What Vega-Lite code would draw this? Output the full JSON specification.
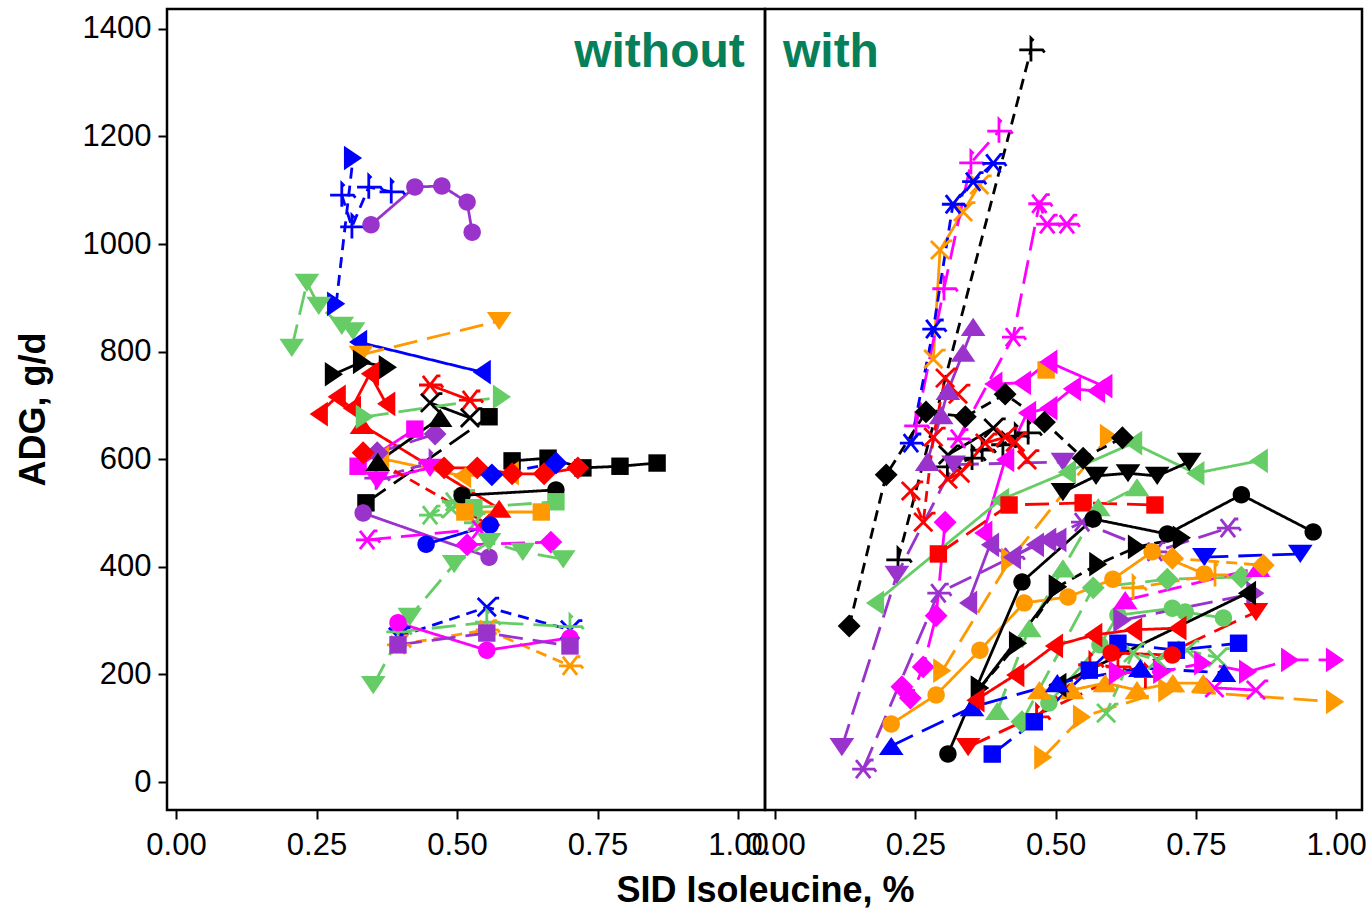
{"$schema":"https://vega.github.io/schema/vega-lite/v6.json","background":"white","padding":{"left":13,"top":7,"right":0,"bottom":0},"spacing":0,"bounds":"flush",
"config":{"view":{"stroke":"#000000","strokeWidth":2.5,"fill":null},"font":"Liberation Sans","axis":{"domain":false,"grid":false,"tickColor":"#000000","tickWidth":2,"tickSize":9,"labelColor":"#000000","labelFontSize":31,"labelFont":"Liberation Sans","labelPadding":7,"titleFont":"Liberation Sans","titleFontSize":36,"titleFontWeight":"bold","titleColor":"#000000"}},
"datasets":{
"without":[
{"series":"a1","colour":"b","symbol":"tr","line":"dash","ile":0.285,"adg":889},{"series":"a1","colour":"b","symbol":"tr","line":"dash","ile":0.315,"adg":1160},
{"series":"a2","colour":"b","symbol":"pl","line":"dash","ile":0.295,"adg":1091},{"series":"a2","colour":"b","symbol":"pl","line":"dash","ile":0.313,"adg":1032},{"series":"a2","colour":"b","symbol":"pl","line":"dash","ile":0.343,"adg":1106},{"series":"a2","colour":"b","symbol":"pl","line":"dash","ile":0.383,"adg":1097},
{"series":"a3","colour":"p","symbol":"ci","line":"solid","ile":0.347,"adg":1036},{"series":"a3","colour":"p","symbol":"ci","line":"solid","ile":0.425,"adg":1106},{"series":"a3","colour":"p","symbol":"ci","line":"solid","ile":0.473,"adg":1108},{"series":"a3","colour":"p","symbol":"ci","line":"solid","ile":0.518,"adg":1078},{"series":"a3","colour":"p","symbol":"ci","line":"solid","ile":0.527,"adg":1022},
{"series":"a4","colour":"g","symbol":"td","line":"long","ile":0.206,"adg":807},{"series":"a4","colour":"g","symbol":"td","line":"long","ile":0.233,"adg":928},{"series":"a4","colour":"g","symbol":"td","line":"long","ile":0.254,"adg":885},{"series":"a4","colour":"g","symbol":"td","line":"long","ile":0.295,"adg":848},{"series":"a4","colour":"g","symbol":"td","line":"long","ile":0.315,"adg":838},
{"series":"a6","colour":"b","symbol":"tl","line":"solid","ile":0.324,"adg":818},{"series":"a6","colour":"b","symbol":"tl","line":"solid","ile":0.544,"adg":762},
{"series":"a5","colour":"o","symbol":"td","line":"long","ile":0.329,"adg":794},{"series":"a5","colour":"o","symbol":"td","line":"long","ile":0.575,"adg":857},
{"series":"a7","colour":"k","symbol":"tr","line":"long","ile":0.281,"adg":758},{"series":"a7","colour":"k","symbol":"tr","line":"long","ile":0.331,"adg":781},{"series":"a7","colour":"k","symbol":"tr","line":"long","ile":0.377,"adg":771},
{"series":"a8","colour":"r","symbol":"tl","line":"solid","ile":0.254,"adg":684},{"series":"a8","colour":"r","symbol":"tl","line":"solid","ile":0.286,"adg":716},{"series":"a8","colour":"r","symbol":"tl","line":"solid","ile":0.313,"adg":695},{"series":"a8","colour":"r","symbol":"tl","line":"solid","ile":0.345,"adg":759},{"series":"a8","colour":"r","symbol":"tl","line":"solid","ile":0.374,"adg":703},
{"series":"a9","colour":"r","symbol":"tu","line":"solid","ile":0.331,"adg":664},{"series":"a9","colour":"r","symbol":"tu","line":"solid","ile":0.575,"adg":508},
{"series":"a32","colour":"r","symbol":"st","line":"solid","ile":0.452,"adg":738},{"series":"a32","colour":"r","symbol":"st","line":"solid","ile":0.523,"adg":710},
{"series":"a33","colour":"k","symbol":"xx","line":"solid","ile":0.452,"adg":705},{"series":"a33","colour":"k","symbol":"xx","line":"solid","ile":0.523,"adg":677},
{"series":"a34","colour":"g","symbol":"tr","line":"long","ile":0.336,"adg":679},{"series":"a34","colour":"g","symbol":"tr","line":"long","ile":0.58,"adg":716},
{"series":"a10","colour":"k","symbol":"sq","line":"long","ile":0.338,"adg":519},{"series":"a10","colour":"k","symbol":"sq","line":"long","ile":0.557,"adg":679},
{"series":"a22","colour":"p","symbol":"ci","line":"solid","ile":0.333,"adg":500},{"series":"a22","colour":"p","symbol":"ci","line":"solid","ile":0.557,"adg":418},
{"series":"a11","colour":"k","symbol":"sq","line":"solid","ile":0.598,"adg":597},{"series":"a11","colour":"k","symbol":"sq","line":"solid","ile":0.662,"adg":602},{"series":"a11","colour":"k","symbol":"sq","line":"solid","ile":0.724,"adg":584},{"series":"a11","colour":"k","symbol":"sq","line":"solid","ile":0.79,"adg":587},{"series":"a11","colour":"k","symbol":"sq","line":"solid","ile":0.856,"adg":593},
{"series":"a17","colour":"o","symbol":"tl","line":"solid","ile":0.363,"adg":602},{"series":"a17","colour":"o","symbol":"tl","line":"solid","ile":0.509,"adg":569},{"series":"a17","colour":"o","symbol":"tl","line":"solid","ile":0.594,"adg":574},
{"series":"a14","colour":"m","symbol":"sq","line":"solid","ile":0.324,"adg":587},{"series":"a14","colour":"m","symbol":"sq","line":"solid","ile":0.425,"adg":656},
{"series":"a15","colour":"p","symbol":"di","line":"long","ile":0.358,"adg":612},{"series":"a15","colour":"p","symbol":"di","line":"long","ile":0.461,"adg":647},
{"series":"a16","colour":"p","symbol":"pl","line":"dash","ile":0.356,"adg":565},{"series":"a16","colour":"p","symbol":"pl","line":"dash","ile":0.452,"adg":593},
{"series":"a18","colour":"m","symbol":"td","line":"solid","ile":0.358,"adg":561},{"series":"a18","colour":"m","symbol":"td","line":"solid","ile":0.452,"adg":584},
{"series":"a12","colour":"r","symbol":"di","line":"dash","ile":0.333,"adg":612},{"series":"a12","colour":"r","symbol":"di","line":"dash","ile":0.557,"adg":478},
{"series":"a13","colour":"k","symbol":"tu","line":"solid","ile":0.359,"adg":595},{"series":"a13","colour":"k","symbol":"tu","line":"solid","ile":0.47,"adg":677},
{"series":"a19","colour":"k","symbol":"ci","line":"solid","ile":0.509,"adg":533},{"series":"a19","colour":"k","symbol":"ci","line":"solid","ile":0.676,"adg":543},
{"series":"a20","colour":"g","symbol":"sq","line":"long","ile":0.53,"adg":510},{"series":"a20","colour":"g","symbol":"sq","line":"long","ile":0.676,"adg":521},
{"series":"a21","colour":"g","symbol":"st","line":"dash","ile":0.452,"adg":496},{"series":"a21","colour":"g","symbol":"st","line":"dash","ile":0.493,"adg":521},{"series":"a21","colour":"g","symbol":"st","line":"dash","ile":0.532,"adg":482},
{"series":"a35","colour":"g","symbol":"xx","line":"dash","ile":0.49,"adg":508},{"series":"a35","colour":"g","symbol":"xx","line":"dash","ile":0.51,"adg":525},
{"series":"a23","colour":"o","symbol":"sq","line":"solid","ile":0.514,"adg":502},{"series":"a23","colour":"o","symbol":"sq","line":"solid","ile":0.65,"adg":502},
{"series":"a24","colour":"m","symbol":"st","line":"long","ile":0.34,"adg":450},{"series":"a24","colour":"m","symbol":"st","line":"long","ile":0.54,"adg":470},
{"series":"a25","colour":"b","symbol":"ci","line":"solid","ile":0.445,"adg":442},{"series":"a25","colour":"b","symbol":"ci","line":"solid","ile":0.559,"adg":478},
{"series":"a26","colour":"m","symbol":"di","line":"long","ile":0.518,"adg":441},{"series":"a26","colour":"m","symbol":"di","line":"long","ile":0.667,"adg":446},
{"series":"a27","colour":"g","symbol":"td","line":"long","ile":0.351,"adg":180},{"series":"a27","colour":"g","symbol":"td","line":"long","ile":0.416,"adg":307},{"series":"a27","colour":"g","symbol":"td","line":"long","ile":0.495,"adg":405},{"series":"a27","colour":"g","symbol":"td","line":"long","ile":0.557,"adg":446},{"series":"a27","colour":"g","symbol":"td","line":"long","ile":0.617,"adg":428},{"series":"a27","colour":"g","symbol":"td","line":"long","ile":0.689,"adg":414},
{"series":"a28","colour":"r","symbol":"di","line":"solid","ile":0.477,"adg":584},{"series":"a28","colour":"r","symbol":"di","line":"solid","ile":0.536,"adg":584},{"series":"a28","colour":"r","symbol":"di","line":"solid","ile":0.598,"adg":573},{"series":"a28","colour":"r","symbol":"di","line":"solid","ile":0.655,"adg":573},{"series":"a28","colour":"r","symbol":"di","line":"solid","ile":0.715,"adg":584},
{"series":"a29","colour":"b","symbol":"di","line":"dash","ile":0.562,"adg":571},{"series":"a29","colour":"b","symbol":"di","line":"dash","ile":0.676,"adg":593},
{"series":"a30","colour":"b","symbol":"xx","line":"dash","ile":0.395,"adg":270},{"series":"a30","colour":"b","symbol":"xx","line":"dash","ile":0.553,"adg":325},{"series":"a30","colour":"b","symbol":"xx","line":"dash","ile":0.701,"adg":283},
{"series":"a31","colour":"g","symbol":"pl","line":"long","ile":0.395,"adg":279},{"series":"a31","colour":"g","symbol":"pl","line":"long","ile":0.553,"adg":297},{"series":"a31","colour":"g","symbol":"pl","line":"long","ile":0.701,"adg":289},
{"series":"a36","colour":"o","symbol":"st","line":"dash","ile":0.395,"adg":255},{"series":"a36","colour":"o","symbol":"st","line":"dash","ile":0.553,"adg":283},{"series":"a36","colour":"o","symbol":"st","line":"dash","ile":0.701,"adg":216},
{"series":"a37","colour":"m","symbol":"ci","line":"solid","ile":0.395,"adg":296},{"series":"a37","colour":"m","symbol":"ci","line":"solid","ile":0.553,"adg":245},{"series":"a37","colour":"m","symbol":"ci","line":"solid","ile":0.701,"adg":268},
{"series":"a38","colour":"p","symbol":"sq","line":"long","ile":0.395,"adg":255},{"series":"a38","colour":"p","symbol":"sq","line":"long","ile":0.553,"adg":277},{"series":"a38","colour":"p","symbol":"sq","line":"long","ile":0.701,"adg":253}
],
"with":[
{"series":"b1","colour":"k","symbol":"pl","line":"dash","ile":0.219,"adg":413},{"series":"b1","colour":"k","symbol":"pl","line":"dash","ile":0.456,"adg":1361},
{"series":"b3","colour":"o","symbol":"xx","line":"solid","ile":0.282,"adg":786},{"series":"b3","colour":"o","symbol":"xx","line":"solid","ile":0.294,"adg":989},{"series":"b3","colour":"o","symbol":"xx","line":"solid","ile":0.335,"adg":1060},{"series":"b3","colour":"o","symbol":"xx","line":"solid","ile":0.364,"adg":1110},
{"series":"b4","colour":"m","symbol":"pl","line":"long","ile":0.251,"adg":662},{"series":"b4","colour":"m","symbol":"pl","line":"long","ile":0.301,"adg":917},{"series":"b4","colour":"m","symbol":"pl","line":"long","ile":0.349,"adg":1151},{"series":"b4","colour":"m","symbol":"pl","line":"long","ile":0.399,"adg":1210},
{"series":"b2","colour":"b","symbol":"st","line":"dash","ile":0.242,"adg":630},{"series":"b2","colour":"b","symbol":"st","line":"dash","ile":0.282,"adg":842},{"series":"b2","colour":"b","symbol":"st","line":"dash","ile":0.317,"adg":1074},{"series":"b2","colour":"b","symbol":"st","line":"dash","ile":0.353,"adg":1116},{"series":"b2","colour":"b","symbol":"st","line":"dash","ile":0.389,"adg":1150},
{"series":"b5","colour":"m","symbol":"st","line":"long","ile":0.326,"adg":638},{"series":"b5","colour":"m","symbol":"st","line":"long","ile":0.424,"adg":827},{"series":"b5","colour":"m","symbol":"st","line":"long","ile":0.471,"adg":1075},{"series":"b5","colour":"m","symbol":"st","line":"long","ile":0.485,"adg":1037},{"series":"b5","colour":"m","symbol":"st","line":"long","ile":0.52,"adg":1037},
{"series":"b6","colour":"p","symbol":"tu","line":"solid","ile":0.271,"adg":595},{"series":"b6","colour":"p","symbol":"tu","line":"solid","ile":0.296,"adg":682},{"series":"b6","colour":"p","symbol":"tu","line":"solid","ile":0.308,"adg":727},{"series":"b6","colour":"p","symbol":"tu","line":"solid","ile":0.335,"adg":798},{"series":"b6","colour":"p","symbol":"tu","line":"solid","ile":0.353,"adg":846},
{"series":"b11","colour":"p","symbol":"td","line":"long","ile":0.119,"adg":65},{"series":"b11","colour":"p","symbol":"td","line":"long","ile":0.217,"adg":385},{"series":"b11","colour":"p","symbol":"td","line":"long","ile":0.318,"adg":590},{"series":"b11","colour":"p","symbol":"td","line":"long","ile":0.513,"adg":595},
{"series":"b40","colour":"o","symbol":"sq","line":"solid","ile":0.483,"adg":766},
{"series":"b12","colour":"m","symbol":"tl","line":"solid","ile":0.389,"adg":740},{"series":"b12","colour":"m","symbol":"tl","line":"solid","ile":0.44,"adg":742},{"series":"b12","colour":"m","symbol":"tl","line":"solid","ile":0.487,"adg":781},{"series":"b12","colour":"m","symbol":"tl","line":"solid","ile":0.585,"adg":736},
{"series":"b13","colour":"m","symbol":"tl","line":"solid","ile":0.371,"adg":463},{"series":"b13","colour":"m","symbol":"tl","line":"solid","ile":0.41,"adg":599},{"series":"b13","colour":"m","symbol":"tl","line":"solid","ile":0.449,"adg":686},{"series":"b13","colour":"m","symbol":"tl","line":"solid","ile":0.487,"adg":695},{"series":"b13","colour":"m","symbol":"tl","line":"solid","ile":0.529,"adg":731},{"series":"b13","colour":"m","symbol":"tl","line":"solid","ile":0.572,"adg":727},
{"series":"b14","colour":"m","symbol":"di","line":"long","ile":0.226,"adg":177},{"series":"b14","colour":"m","symbol":"di","line":"long","ile":0.241,"adg":156},{"series":"b14","colour":"m","symbol":"di","line":"long","ile":0.264,"adg":214},{"series":"b14","colour":"m","symbol":"di","line":"long","ile":0.287,"adg":309},{"series":"b14","colour":"m","symbol":"di","line":"long","ile":0.303,"adg":483},
{"series":"b15","colour":"p","symbol":"st","line":"long","ile":0.157,"adg":24},{"series":"b15","colour":"p","symbol":"st","line":"long","ile":0.291,"adg":351},{"series":"b15","colour":"p","symbol":"st","line":"long","ile":0.422,"adg":418},{"series":"b15","colour":"p","symbol":"st","line":"long","ile":0.547,"adg":483},{"series":"b15","colour":"p","symbol":"st","line":"long","ile":0.677,"adg":428},{"series":"b15","colour":"p","symbol":"st","line":"long","ile":0.807,"adg":472},
{"series":"b22","colour":"o","symbol":"tr","line":"long","ile":0.298,"adg":207},{"series":"b22","colour":"o","symbol":"tr","line":"long","ile":0.419,"adg":413},{"series":"b22","colour":"o","symbol":"tr","line":"long","ile":0.595,"adg":643},
{"series":"b16","colour":"g","symbol":"tl","line":"solid","ile":0.178,"adg":333},{"series":"b16","colour":"g","symbol":"tl","line":"solid","ile":0.401,"adg":524},{"series":"b16","colour":"g","symbol":"tl","line":"solid","ile":0.52,"adg":576},{"series":"b16","colour":"g","symbol":"tl","line":"solid","ile":0.638,"adg":630},{"series":"b16","colour":"g","symbol":"tl","line":"solid","ile":0.749,"adg":574},{"series":"b16","colour":"g","symbol":"tl","line":"solid","ile":0.862,"adg":597},
{"series":"b7","colour":"k","symbol":"di","line":"dash","ile":0.132,"adg":290},{"series":"b7","colour":"k","symbol":"di","line":"dash","ile":0.198,"adg":571},{"series":"b7","colour":"k","symbol":"di","line":"dash","ile":0.269,"adg":688},{"series":"b7","colour":"k","symbol":"di","line":"dash","ile":0.339,"adg":679},{"series":"b7","colour":"k","symbol":"di","line":"dash","ile":0.41,"adg":721},{"series":"b7","colour":"k","symbol":"di","line":"dash","ile":0.48,"adg":669},{"series":"b7","colour":"k","symbol":"di","line":"dash","ile":0.549,"adg":602},{"series":"b7","colour":"k","symbol":"di","line":"dash","ile":0.619,"adg":640},
{"series":"b9","colour":"k","symbol":"xx","line":"solid","ile":0.308,"adg":608},{"series":"b9","colour":"k","symbol":"xx","line":"solid","ile":0.389,"adg":658},
{"series":"b10","colour":"k","symbol":"pl","line":"dash","ile":0.307,"adg":586},{"series":"b10","colour":"k","symbol":"pl","line":"dash","ile":0.351,"adg":602},{"series":"b10","colour":"k","symbol":"pl","line":"dash","ile":0.369,"adg":617},{"series":"b10","colour":"k","symbol":"pl","line":"dash","ile":0.406,"adg":627},{"series":"b10","colour":"k","symbol":"pl","line":"dash","ile":0.428,"adg":643},{"series":"b10","colour":"k","symbol":"pl","line":"dash","ile":0.451,"adg":649},
{"series":"b8","colour":"r","symbol":"xx","line":"dash","ile":0.242,"adg":541},{"series":"b8","colour":"r","symbol":"xx","line":"dash","ile":0.264,"adg":483},{"series":"b8","colour":"r","symbol":"xx","line":"dash","ile":0.282,"adg":641},{"series":"b8","colour":"r","symbol":"xx","line":"dash","ile":0.303,"adg":751},{"series":"b8","colour":"r","symbol":"xx","line":"dash","ile":0.326,"adg":721},
{"series":"b41","colour":"r","symbol":"xx","line":"solid","ile":0.308,"adg":563},{"series":"b41","colour":"r","symbol":"xx","line":"solid","ile":0.33,"adg":574},{"series":"b41","colour":"r","symbol":"xx","line":"solid","ile":0.374,"adg":630},{"series":"b41","colour":"r","symbol":"xx","line":"solid","ile":0.41,"adg":641},{"series":"b41","colour":"r","symbol":"xx","line":"solid","ile":0.428,"adg":632},{"series":"b41","colour":"r","symbol":"xx","line":"solid","ile":0.449,"adg":599},
{"series":"b17","colour":"p","symbol":"tl","line":"solid","ile":0.344,"adg":333},{"series":"b17","colour":"p","symbol":"tl","line":"solid","ile":0.383,"adg":441},{"series":"b17","colour":"p","symbol":"tl","line":"solid","ile":0.422,"adg":418},{"series":"b17","colour":"p","symbol":"tl","line":"solid","ile":0.463,"adg":441},{"series":"b17","colour":"p","symbol":"tl","line":"solid","ile":0.485,"adg":450},{"series":"b17","colour":"p","symbol":"tl","line":"solid","ile":0.503,"adg":450},
{"series":"b18","colour":"r","symbol":"sq","line":"long","ile":0.291,"adg":424},{"series":"b18","colour":"r","symbol":"sq","line":"long","ile":0.417,"adg":515},{"series":"b18","colour":"r","symbol":"sq","line":"long","ile":0.549,"adg":519},{"series":"b18","colour":"r","symbol":"sq","line":"long","ile":0.677,"adg":515},
{"series":"b19","colour":"g","symbol":"tu","line":"long","ile":0.396,"adg":132},{"series":"b19","colour":"g","symbol":"tu","line":"long","ile":0.453,"adg":286},{"series":"b19","colour":"g","symbol":"tu","line":"long","ile":0.513,"adg":397},{"series":"b19","colour":"g","symbol":"tu","line":"long","ile":0.576,"adg":511},{"series":"b19","colour":"g","symbol":"tu","line":"long","ile":0.645,"adg":548},
{"series":"b20","colour":"k","symbol":"td","line":"solid","ile":0.513,"adg":539},{"series":"b20","colour":"k","symbol":"td","line":"solid","ile":0.572,"adg":569},{"series":"b20","colour":"k","symbol":"td","line":"solid","ile":0.629,"adg":574},{"series":"b20","colour":"k","symbol":"td","line":"solid","ile":0.681,"adg":569},{"series":"b20","colour":"k","symbol":"td","line":"solid","ile":0.738,"adg":595},
{"series":"b21","colour":"b","symbol":"td","line":"long","ile":0.765,"adg":418},{"series":"b21","colour":"b","symbol":"td","line":"long","ile":0.936,"adg":424},
{"series":"b23","colour":"o","symbol":"ci","line":"solid","ile":0.207,"adg":108},{"series":"b23","colour":"o","symbol":"ci","line":"solid","ile":0.287,"adg":162},{"series":"b23","colour":"o","symbol":"ci","line":"solid","ile":0.365,"adg":245},{"series":"b23","colour":"o","symbol":"ci","line":"solid","ile":0.444,"adg":333},{"series":"b23","colour":"o","symbol":"ci","line":"solid","ile":0.522,"adg":344},{"series":"b23","colour":"o","symbol":"ci","line":"solid","ile":0.602,"adg":377},{"series":"b23","colour":"o","symbol":"ci","line":"solid","ile":0.672,"adg":428},{"series":"b23","colour":"o","symbol":"ci","line":"solid","ile":0.765,"adg":387},
{"series":"b24","colour":"k","symbol":"ci","line":"solid","ile":0.308,"adg":52},{"series":"b24","colour":"k","symbol":"ci","line":"solid","ile":0.44,"adg":372},{"series":"b24","colour":"k","symbol":"ci","line":"solid","ile":0.567,"adg":489},{"series":"b24","colour":"k","symbol":"ci","line":"solid","ile":0.699,"adg":461},{"series":"b24","colour":"k","symbol":"ci","line":"solid","ile":0.831,"adg":534},{"series":"b24","colour":"k","symbol":"ci","line":"solid","ile":0.959,"adg":465},
{"series":"b25","colour":"k","symbol":"tr","line":"solid","ile":0.365,"adg":175},{"series":"b25","colour":"k","symbol":"tr","line":"solid","ile":0.504,"adg":363},
{"series":"b26","colour":"k","symbol":"tr","line":"dash","ile":0.365,"adg":175},{"series":"b26","colour":"k","symbol":"tr","line":"dash","ile":0.433,"adg":258},{"series":"b26","colour":"k","symbol":"tr","line":"dash","ile":0.504,"adg":363},{"series":"b26","colour":"k","symbol":"tr","line":"dash","ile":0.576,"adg":405},{"series":"b26","colour":"k","symbol":"tr","line":"dash","ile":0.645,"adg":437},{"series":"b26","colour":"k","symbol":"tr","line":"dash","ile":0.725,"adg":454},
{"series":"b27","colour":"o","symbol":"tr","line":"long","ile":0.478,"adg":46},{"series":"b27","colour":"o","symbol":"tr","line":"long","ile":0.547,"adg":121},{"series":"b27","colour":"o","symbol":"tr","line":"long","ile":0.699,"adg":171},{"series":"b27","colour":"o","symbol":"tr","line":"long","ile":0.998,"adg":149},
{"series":"b28","colour":"g","symbol":"di","line":"long","ile":0.44,"adg":112},{"series":"b28","colour":"g","symbol":"di","line":"long","ile":0.567,"adg":361},{"series":"b28","colour":"g","symbol":"di","line":"long","ile":0.699,"adg":377},{"series":"b28","colour":"g","symbol":"di","line":"long","ile":0.831,"adg":381},
{"series":"b29","colour":"g","symbol":"ci","line":"solid","ile":0.488,"adg":147},{"series":"b29","colour":"g","symbol":"ci","line":"solid","ile":0.579,"adg":255},{"series":"b29","colour":"g","symbol":"ci","line":"solid","ile":0.611,"adg":310},{"series":"b29","colour":"g","symbol":"ci","line":"solid","ile":0.708,"adg":323},{"series":"b29","colour":"g","symbol":"ci","line":"solid","ile":0.731,"adg":316},{"series":"b29","colour":"g","symbol":"ci","line":"solid","ile":0.799,"adg":305},
{"series":"b30","colour":"m","symbol":"tu","line":"long","ile":0.624,"adg":338},{"series":"b30","colour":"m","symbol":"tu","line":"long","ile":0.861,"adg":398},
{"series":"b31","colour":"o","symbol":"di","line":"dash","ile":0.708,"adg":416},{"series":"b31","colour":"o","symbol":"di","line":"dash","ile":0.87,"adg":403},
{"series":"b32","colour":"o","symbol":"pl","line":"dash","ile":0.638,"adg":361},{"series":"b32","colour":"o","symbol":"pl","line":"dash","ile":0.784,"adg":385},
{"series":"b33","colour":"p","symbol":"tr","line":"long","ile":0.619,"adg":301},{"series":"b33","colour":"p","symbol":"tr","line":"long","ile":0.856,"adg":351},
{"series":"b34","colour":"r","symbol":"td","line":"long","ile":0.344,"adg":65},{"series":"b34","colour":"r","symbol":"td","line":"long","ile":0.857,"adg":316},
{"series":"b35","colour":"b","symbol":"sq","line":"long","ile":0.387,"adg":52},{"series":"b35","colour":"b","symbol":"sq","line":"long","ile":0.462,"adg":112},{"series":"b35","colour":"b","symbol":"sq","line":"long","ile":0.56,"adg":208},{"series":"b35","colour":"b","symbol":"sq","line":"long","ile":0.611,"adg":258},{"series":"b35","colour":"b","symbol":"sq","line":"long","ile":0.715,"adg":245},{"series":"b35","colour":"b","symbol":"sq","line":"long","ile":0.826,"adg":258},
{"series":"b36","colour":"r","symbol":"pl","line":"dash","ile":0.466,"adg":121},{"series":"b36","colour":"r","symbol":"pl","line":"dash","ile":0.561,"adg":218},{"series":"b36","colour":"r","symbol":"pl","line":"dash","ile":0.611,"adg":214},{"series":"b36","colour":"r","symbol":"pl","line":"dash","ile":0.66,"adg":196},
{"series":"b37","colour":"o","symbol":"tu","line":"solid","ile":0.471,"adg":171},{"series":"b37","colour":"o","symbol":"tu","line":"solid","ile":0.529,"adg":171},{"series":"b37","colour":"o","symbol":"tu","line":"solid","ile":0.588,"adg":184},{"series":"b37","colour":"o","symbol":"tu","line":"solid","ile":0.645,"adg":171},{"series":"b37","colour":"o","symbol":"tu","line":"solid","ile":0.709,"adg":184},{"series":"b37","colour":"o","symbol":"tu","line":"solid","ile":0.763,"adg":184},
{"series":"b42","colour":"k","symbol":"tl","line":"solid","ile":0.503,"adg":180},{"series":"b42","colour":"k","symbol":"tl","line":"solid","ile":0.841,"adg":351},
{"series":"b43","colour":"b","symbol":"tu","line":"long","ile":0.207,"adg":67},{"series":"b43","colour":"b","symbol":"tu","line":"long","ile":0.351,"adg":139},{"series":"b43","colour":"b","symbol":"tu","line":"long","ile":0.503,"adg":184},{"series":"b43","colour":"b","symbol":"tu","line":"long","ile":0.651,"adg":212},{"series":"b43","colour":"b","symbol":"tu","line":"long","ile":0.8,"adg":203},
{"series":"b44","colour":"r","symbol":"tl","line":"solid","ile":0.357,"adg":152},{"series":"b44","colour":"r","symbol":"tl","line":"solid","ile":0.428,"adg":199},{"series":"b44","colour":"r","symbol":"tl","line":"solid","ile":0.497,"adg":253},{"series":"b44","colour":"r","symbol":"tl","line":"solid","ile":0.567,"adg":273},{"series":"b44","colour":"r","symbol":"tl","line":"solid","ile":0.638,"adg":283},{"series":"b44","colour":"r","symbol":"tl","line":"solid","ile":0.717,"adg":286},
{"series":"b45","colour":"r","symbol":"ci","line":"solid","ile":0.599,"adg":240},{"series":"b45","colour":"r","symbol":"ci","line":"solid","ile":0.708,"adg":236},
{"series":"b38","colour":"g","symbol":"xx","line":"dash","ile":0.59,"adg":128},{"series":"b38","colour":"g","symbol":"xx","line":"dash","ile":0.638,"adg":240},{"series":"b38","colour":"g","symbol":"xx","line":"dash","ile":0.681,"adg":227},{"series":"b38","colour":"g","symbol":"xx","line":"dash","ile":0.734,"adg":245},{"series":"b38","colour":"g","symbol":"xx","line":"dash","ile":0.788,"adg":231},
{"series":"b39","colour":"m","symbol":"tr","line":"long","ile":0.611,"adg":203},{"series":"b39","colour":"m","symbol":"tr","line":"long","ile":0.69,"adg":205},{"series":"b39","colour":"m","symbol":"tr","line":"long","ile":0.763,"adg":221},{"series":"b39","colour":"m","symbol":"tr","line":"long","ile":0.843,"adg":205},{"series":"b39","colour":"m","symbol":"tr","line":"long","ile":0.918,"adg":227},{"series":"b39","colour":"m","symbol":"tr","line":"long","ile":0.998,"adg":227},
{"series":"b46","colour":"m","symbol":"xx","line":"solid","ile":0.783,"adg":175},{"series":"b46","colour":"m","symbol":"xx","line":"solid","ile":0.857,"adg":171}
]},
"hconcat":[
{"width":598,"height":801,"layer":[
{"data":{"name":"without"},"mark":{"type":"line","strokeWidth":2.8},"encoding":{"x":{"field":"ile","type":"quantitative","scale":{"domain":[-0.016,1.048],"nice":false},"axis":{"title":"SID Isoleucine, %","titleX":598,"titleY":63,"labelPadding":11,"values":[0,0.25,0.5,0.75,1],"format":".2f"}},"y":{"field":"adg","type":"quantitative","scale":{"domain":[-52,1437],"nice":false},"axis":{"title":"ADG, g/d","titleX":-115,"titleY":400,"values":[0,200,400,600,800,1000,1200,1400],"format":"d"}},"detail":{"field":"series"},"color":{"field":"colour","type":"nominal","scale":{"domain":["k","b","r","g","o","m","p"],"range":["#000000","#0000ff","#ff0000","#66cc66","#ff9900","#ff00ff","#9933cc"]},"legend":null},"strokeDash":{"field":"line","type":"nominal","scale":{"domain":["solid","dash","long"],"range":[[1,0],[11,7],[24,10]]},"legend":null}}},
{"data":{"name":"without"},"transform":[{"filter":{"field":"symbol","oneOf":["xx","pl","st"]}}],"mark":{"type":"point","filled":false,"size":676,"opacity":1,"strokeWidth":2.8},"encoding":{"x":{"field":"ile","type":"quantitative"},"y":{"field":"adg","type":"quantitative"},"color":{"field":"colour","type":"nominal","legend":null},"shape":{"field":"symbol","type":"nominal","scale":{"domain":["ci","sq","di","tu","td","tl","tr","xx","pl","st"],"range":["M0.67,0A0.67,0.67 0 1 1 -0.67,0A0.67,0.67 0 1 1 0.67,0Z","M-0.67,-0.67L0.67,-0.67L0.67,0.67L-0.67,0.67Z","M0,-0.88L0.88,0L0,0.88L-0.88,0Z","M-0.95,0.7L0.95,0.7L0,-0.7Z","M-0.95,-0.7L0.95,-0.7L0,0.7Z","M0.7,-0.95L0.7,0.95L-0.7,0Z","M-0.7,-0.95L-0.7,0.95L0.7,0Z","M-0.7,-0.7L0.7,0.7L0,0L-0.7,0.7L0.7,-0.7L0.95,-0.7L0.7,-0.7L0,0","M-0.9,0L0.9,0L1.05,0.2L0.9,0L0,0L0,-0.9L0.2,-0.7L0,-0.9L0,0.9L0,0","M-0.55,-0.7L0.55,0.7L0,0L-0.55,0.7L0.55,-0.7L0.8,-0.7L0.55,-0.7L0,0L-0.85,0L0.85,0L1,0.2L0.85,0L0,0"]},"legend":null}}},
{"data":{"name":"without"},"transform":[{"filter":{"field":"symbol","oneOf":["ci","sq","di","tu","td","tl","tr"]}}],"mark":{"type":"point","filled":true,"size":676,"opacity":1},"encoding":{"x":{"field":"ile","type":"quantitative"},"y":{"field":"adg","type":"quantitative"},"color":{"field":"colour","type":"nominal","legend":null},"shape":{"field":"symbol","type":"nominal","legend":null}}},
{"data":{"values":[{"panel":"without","ile":1.012,"adg":1355}]},"mark":{"type":"text","align":"right","baseline":"middle","font":"Liberation Sans","fontWeight":"bold","fontSize":48,"color":"#07805a"},"encoding":{"x":{"field":"ile","type":"quantitative"},"y":{"field":"adg","type":"quantitative"},"text":{"field":"panel"}}}
]},
{"width":597,"height":801,"layer":[
{"data":{"name":"with"},"mark":{"type":"line","strokeWidth":2.8},"encoding":{"x":{"field":"ile","type":"quantitative","scale":{"domain":[-0.018,1.046],"nice":false},"axis":{"title":null,"labelPadding":11,"values":[0,0.25,0.5,0.75,1],"format":".2f"}},"y":{"field":"adg","type":"quantitative","scale":{"domain":[-52,1437],"nice":false},"axis":null},"detail":{"field":"series"},"color":{"field":"colour","type":"nominal","scale":{"domain":["k","b","r","g","o","m","p"],"range":["#000000","#0000ff","#ff0000","#66cc66","#ff9900","#ff00ff","#9933cc"]},"legend":null},"strokeDash":{"field":"line","type":"nominal","scale":{"domain":["solid","dash","long"],"range":[[1,0],[11,7],[24,10]]},"legend":null}}},
{"data":{"name":"with"},"transform":[{"filter":{"field":"symbol","oneOf":["xx","pl","st"]}}],"mark":{"type":"point","filled":false,"size":676,"opacity":1,"strokeWidth":2.8},"encoding":{"x":{"field":"ile","type":"quantitative"},"y":{"field":"adg","type":"quantitative"},"color":{"field":"colour","type":"nominal","legend":null},"shape":{"field":"symbol","type":"nominal","scale":{"domain":["ci","sq","di","tu","td","tl","tr","xx","pl","st"],"range":["M0.67,0A0.67,0.67 0 1 1 -0.67,0A0.67,0.67 0 1 1 0.67,0Z","M-0.67,-0.67L0.67,-0.67L0.67,0.67L-0.67,0.67Z","M0,-0.88L0.88,0L0,0.88L-0.88,0Z","M-0.95,0.7L0.95,0.7L0,-0.7Z","M-0.95,-0.7L0.95,-0.7L0,0.7Z","M0.7,-0.95L0.7,0.95L-0.7,0Z","M-0.7,-0.95L-0.7,0.95L0.7,0Z","M-0.7,-0.7L0.7,0.7L0,0L-0.7,0.7L0.7,-0.7L0.95,-0.7L0.7,-0.7L0,0","M-0.9,0L0.9,0L1.05,0.2L0.9,0L0,0L0,-0.9L0.2,-0.7L0,-0.9L0,0.9L0,0","M-0.55,-0.7L0.55,0.7L0,0L-0.55,0.7L0.55,-0.7L0.8,-0.7L0.55,-0.7L0,0L-0.85,0L0.85,0L1,0.2L0.85,0L0,0"]},"legend":null}}},
{"data":{"name":"with"},"transform":[{"filter":{"field":"symbol","oneOf":["ci","sq","di","tu","td","tl","tr"]}}],"mark":{"type":"point","filled":true,"size":676,"opacity":1},"encoding":{"x":{"field":"ile","type":"quantitative"},"y":{"field":"adg","type":"quantitative"},"color":{"field":"colour","type":"nominal","legend":null},"shape":{"field":"symbol","type":"nominal","legend":null}}},
{"data":{"values":[{"panel":"with","ile":0.014,"adg":1355}]},"mark":{"type":"text","align":"left","baseline":"middle","font":"Liberation Sans","fontWeight":"bold","fontSize":48,"color":"#07805a"},"encoding":{"x":{"field":"ile","type":"quantitative"},"y":{"field":"adg","type":"quantitative"},"text":{"field":"panel"}}}
]}
]}
